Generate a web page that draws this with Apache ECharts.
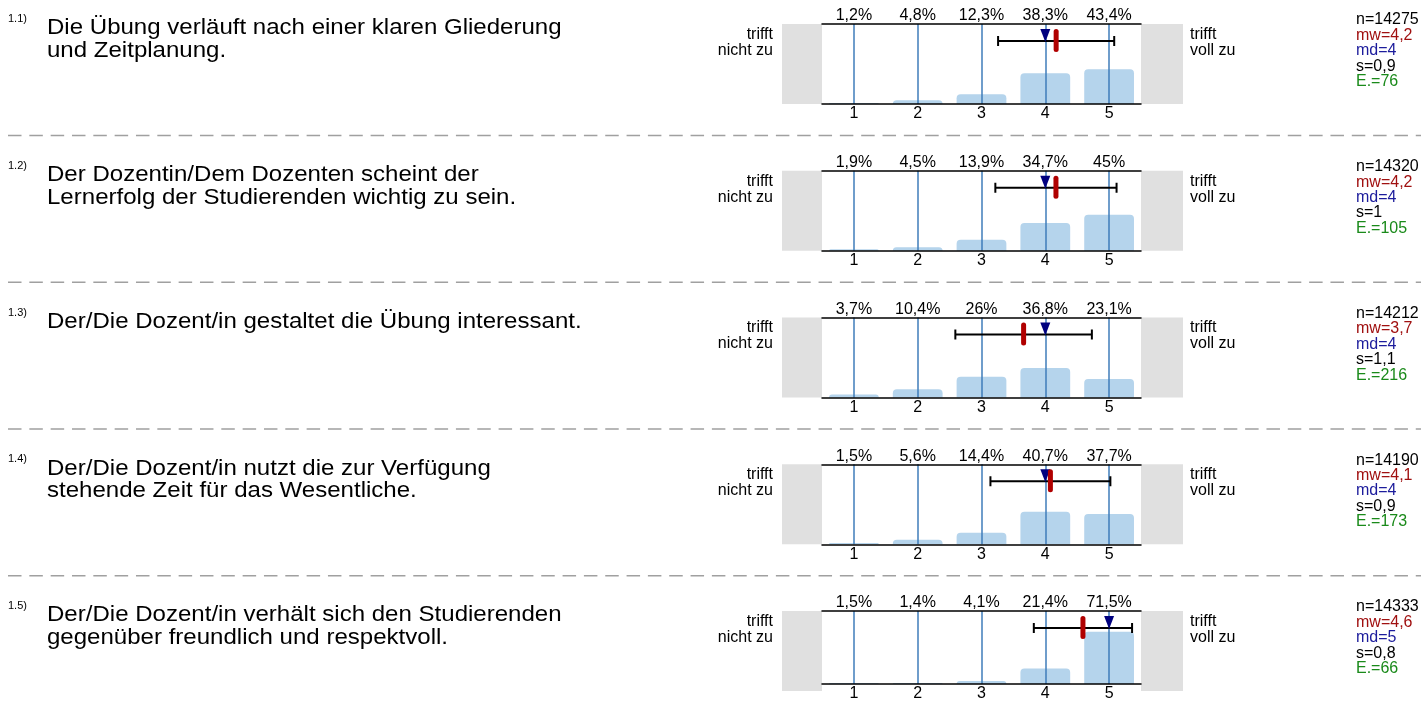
<!DOCTYPE html>
<html>
<head>
<meta charset="utf-8">
<script src="https://cdn.jsdelivr.net/npm/echarts@6/dist/echarts.min.js"></script>
<style>
html,body{margin:0;padding:0;background:#fff;}
#chart{width:1421px;height:702px;}
</style>
</head>
<body>
<div id="chart"></div>
<script>
// ---------- data ----------
const categories = ['1', '2', '3', '4', '5'];
const questionIds = ['1.1)', '1.2)', '1.3)', '1.4)', '1.5)'];
const questionTexts = [
  'Die Übung verläuft nach einer klaren Gliederung\nund Zeitplanung.',
  'Der Dozentin/Dem Dozenten scheint der\nLernerfolg der Studierenden wichtig zu sein.',
  'Der/Die Dozent/in gestaltet die Übung interessant.',
  'Der/Die Dozent/in nutzt die zur Verfügung\nstehende Zeit für das Wesentliche.',
  'Der/Die Dozent/in verhält sich den Studierenden\ngegenüber freundlich und respektvoll.'
];
const pctQ1 = [1.2, 4.8, 12.3, 38.3, 43.4];
const pctQ2 = [1.9, 4.5, 13.9, 34.7, 45];
const pctQ3 = [3.7, 10.4, 26, 36.8, 23.1];
const pctQ4 = [1.5, 5.6, 14.4, 40.7, 37.7];
const pctQ5 = [1.5, 1.4, 4.1, 21.4, 71.5];
const nValues = [14275, 14320, 14212, 14190, 14333];
const meanValues = [4.17, 4.167, 3.66, 4.08, 4.59];
const medianValues = [4, 4, 4, 4, 5];
const sdValues = [0.91, 0.95, 1.07, 0.94, 0.77];
const abstValues = [76, 105, 216, 173, 66];
const leftLabel = 'trifft\nnicht zu';
const rightLabel = 'trifft\nvoll zu';

const pctRows = [pctQ1, pctQ2, pctQ3, pctQ4, pctQ5];

// ---------- layout / style ----------
const FONT = '"Liberation Sans", Arial, Helvetica, sans-serif';
const ROW_TOP0 = 24, ROW_STEP = 146.75;
const PLOT_LEFT = 822, PLOT_W = 319, PLOT_H = 80;
const BAR_COLOR = '#b5d4ec';
const VLINE_COLOR = '#3f7cba';
const MEAN_COLOR = '#b00000';
const MED_COLOR = '#00007f';
const SMALL = 16;

function fmt1(v) {
  return String(Math.round(v * 10) / 10).replace('.', ',');
}

const chart = echarts.init(document.getElementById('chart'), null, {renderer: 'canvas'});

const grids = [], xAxes = [], yAxes = [], series = [], graphics = [];

pctRows.forEach((pct, i) => {
  const top = ROW_TOP0 + i * ROW_STEP;
  grids.push({left: PLOT_LEFT, top: top, width: PLOT_W, height: PLOT_H, containLabel: false});
  // bottom category axis
  xAxes.push({
    type: 'category', gridIndex: i, position: 'bottom', data: categories, z: 10,
    axisLine: {show: true, lineStyle: {color: '#000', width: 1.5}},
    axisTick: {show: false},
    axisLabel: {fontSize: SMALL, color: '#000', margin: 2, fontFamily: FONT},
    splitLine: {show: false}
  });
  // top category axis with percentages
  xAxes.push({
    type: 'category', gridIndex: i, position: 'top', data: categories, z: 10,
    axisLine: {show: true, lineStyle: {color: '#000', width: 1.5}},
    axisTick: {show: false},
    axisLabel: {fontSize: SMALL, color: '#000', margin: 0, fontFamily: FONT,
      formatter: (v, idx) => fmt1(pct[idx]) + '%'},
    splitLine: {show: false}
  });
  // hidden value axis for markers
  xAxes.push({type: 'value', gridIndex: i, min: 0.5, max: 5.5, show: false});
  yAxes.push({type: 'value', gridIndex: i, min: 0, max: 100, show: false});

  series.push({
    type: 'bar', xAxisIndex: 3 * i, yAxisIndex: i, data: pct,
    barWidth: '78%', silent: true,
    itemStyle: {color: BAR_COLOR, borderRadius: [4, 4, 0, 0]},
    markLine: {
      silent: true, symbol: 'none', animation: false,
      label: {show: false},
      lineStyle: {color: VLINE_COLOR, width: 1.5, type: 'solid'},
      data: categories.map(c => ({xAxis: c}))
    }
  });

  series.push({
    type: 'custom', xAxisIndex: 3 * i + 2, yAxisIndex: i, silent: true, z: 5,
    data: [[meanValues[i], sdValues[i], medianValues[i]]],
    renderItem: (params, api) => {
      const m = api.value(0), s = api.value(1), md = api.value(2);
      const t = params.coordSys.y;
      const xl = api.coord([m - s, 0])[0];
      const xr = api.coord([m + s, 0])[0];
      const xm = api.coord([m, 0])[0];
      const xmd = api.coord([md, 0])[0];
      const y = t + 17;
      const ls = {stroke: '#000', lineWidth: 2};
      return {
        type: 'group',
        children: [
          {type: 'line', shape: {x1: xl, y1: y, x2: xr, y2: y}, style: ls},
          {type: 'line', shape: {x1: xl, y1: y - 5, x2: xl, y2: y + 5}, style: ls},
          {type: 'line', shape: {x1: xr, y1: y - 5, x2: xr, y2: y + 5}, style: ls},
          {type: 'polygon', shape: {points: [[xmd - 5, t + 5], [xmd + 5, t + 5], [xmd, t + 18]]},
            style: {fill: MED_COLOR}},
          {type: 'rect', shape: {x: xm - 2.5, y: t + 5, width: 5, height: 23, r: 2.5},
            style: {fill: MEAN_COLOR}}
        ]
      };
    }
  });

  // gray side boxes
  graphics.push({type: 'rect', left: 782, top: top, z: -10, silent: true,
    shape: {width: PLOT_LEFT - 782, height: PLOT_H}, style: {fill: '#e0e0e0'}});
  graphics.push({type: 'rect', left: PLOT_LEFT + PLOT_W, top: top, z: -10, silent: true,
    shape: {width: 1183 - PLOT_LEFT - PLOT_W, height: PLOT_H}, style: {fill: '#e0e0e0'}});

  // question id and text
  graphics.push({type: 'text', x: 8, y: top - 5, silent: true,
    style: {text: questionIds[i], font: '11px ' + FONT, fill: '#000', verticalAlign: 'middle'}});
  graphics.push({type: 'text', x: 47, y: top - 7, scaleX: 1.093, silent: true,
    style: {text: questionTexts[i], font: '22px ' + FONT, fill: '#000', verticalAlign: 'top',
      lineHeight: 22.5}});

  // side labels
  graphics.push({type: 'text', x: 773, y: top + 2.5, silent: true,
    style: {text: leftLabel, font: SMALL + 'px ' + FONT, fill: '#000', align: 'right',
      verticalAlign: 'top', lineHeight: 16}});
  graphics.push({type: 'text', x: 1190, y: top + 2.5, silent: true,
    style: {text: rightLabel, font: SMALL + 'px ' + FONT, fill: '#000', align: 'left',
      verticalAlign: 'top', lineHeight: 16}});

  // stats
  const stats = [
    ['n=' + nValues[i], '#000'],
    ['mw=' + fmt1(meanValues[i]), '#a01010'],
    ['md=' + medianValues[i], '#1c1c9c'],
    ['s=' + fmt1(sdValues[i]), '#000'],
    ['E.=' + abstValues[i], '#1a8a1a']
  ];
  stats.forEach((st, k) => {
    graphics.push({type: 'text', x: 1356, y: top - 4 + k * 15.4, silent: true,
      style: {text: st[0], font: SMALL + 'px ' + FONT, fill: st[1], verticalAlign: 'middle'}});
  });

  // dashed separator
  if (i < pctRows.length - 1) {
    const yd = top + 111.5;
    graphics.push({type: 'line', silent: true,
      shape: {x1: 8, y1: yd, x2: 1421, y2: yd},
      style: {stroke: '#a0a0a0', lineWidth: 1.5, lineDash: [13.5, 7.83]}});
  }
});

chart.setOption({
  animation: false,
  backgroundColor: '#fff',
  textStyle: {fontFamily: FONT},
  grid: grids,
  xAxis: xAxes,
  yAxis: yAxes,
  series: series,
  graphic: graphics
});
</script>
</body>
</html>
